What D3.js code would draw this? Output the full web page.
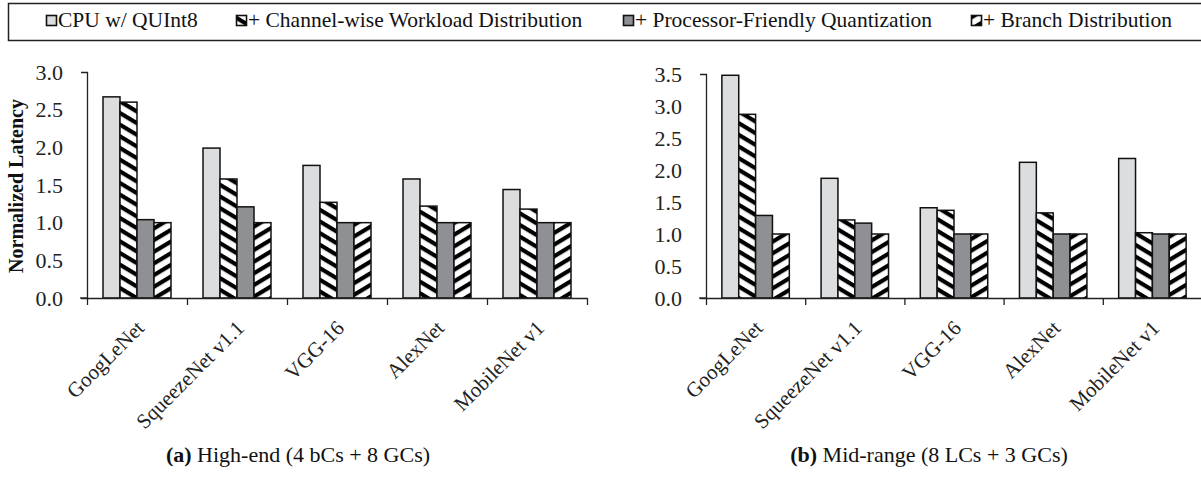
<!DOCTYPE html>
<html>
<head>
<meta charset="utf-8">
<script src="https://cdn.jsdelivr.net/npm/d3@7"></script>
<style>
  html, body { margin: 0; padding: 0; background: #fff; }
  svg { display: block; }
  svg text { font-family: "Liberation Serif", "Times New Roman", serif; }
</style>
</head>
<body>
<svg id="chart" width="1201" height="482"></svg>
<script>
const SERIF = "Liberation Serif";

// Networks on the x axis
const models = ["GoogLeNet", "SqueezeNet v1.1", "VGG-16", "AlexNet", "MobileNet v1"];

// Optimisation steps (legend entries)
const seriesNames = [
  "CPU w/ QUInt8",
  "+ Channel-wise Workload Distribution",
  "+ Processor-Friendly Quantization",
  "+ Branch Distribution"
];

// (a) High-end (4 bCs + 8 GCs): normalized latency per model, one array per step
const highCpu      = [2.67, 1.99, 1.76, 1.58, 1.44];
const highChannel  = [2.60, 1.58, 1.27, 1.22, 1.18];
const highQuant    = [1.04, 1.21, 1.00, 1.00, 1.00];
const highBranch   = [1.00, 1.00, 1.00, 1.00, 1.00];

// (b) Mid-range (8 LCs + 3 GCs)
const midCpu       = [3.48, 1.87, 1.41, 2.12, 2.18];
const midChannel   = [2.87, 1.22, 1.37, 1.33, 1.02];
const midQuant     = [1.29, 1.17, 1.00, 1.00, 1.00];
const midBranch    = [1.00, 1.00, 1.00, 1.00, 1.00];

const highTicks = [0, 0.5, 1.0, 1.5, 2.0, 2.5, 3.0];
const midTicks  = [0, 0.5, 1.0, 1.5, 2.0, 2.5, 3.0, 3.5];

const svg = d3.select("#chart");
const defs = svg.append("defs");

// Striped fills: "\" for channel-wise, "/" for branch distribution
function stripePattern(id, angle) {
  const p = defs.append("pattern")
    .attr("id", id)
    .attr("patternUnits", "userSpaceOnUse")
    .attr("width", 10).attr("height", 10)
    .attr("patternTransform", `rotate(${angle})`);
  p.append("rect").attr("width", 10).attr("height", 10).attr("fill", "#fff");
  p.append("rect").attr("x", 0).attr("y", 3).attr("width", 10).attr("height", 4.2).attr("fill", "#000");
}
stripePattern("stripeBack", 31);
stripePattern("stripeFwd", -31);

const fills = ["#dcdddf", "url(#stripeBack)", "#8f9094", "url(#stripeFwd)"];

// Legend frame and entries
svg.append("rect")
  .attr("x", 8.5).attr("y", 3.5).attr("width", 1200).attr("height", 37)
  .attr("fill", "none").attr("stroke", "#222").attr("stroke-width", 1.5);

const legendX = [46, 236, 623, 971];
const legend = svg.append("g").selectAll("g")
  .data(seriesNames).join("g")
  .attr("transform", (d, i) => `translate(${legendX[i]},0)`);
legend.append("rect")
  .attr("x", 0.5).attr("y", 15.5).attr("width", 10).attr("height", 10)
  .attr("fill", (d, i) => fills[i]).attr("stroke", "#111").attr("stroke-width", 1.6);
legend.append("text")
  .attr("x", 12).attr("y", 27)
  .attr("font-family", SERIF)
  .attr("font-size", 21.5).attr("fill", "#111")
  .text(d => d);

function drawPanel(opts) {
  const { x0, x1, yTop, yBottom, yMax, ticks, series, caption, captionX, yLabel } = opts;
  const g = svg.append("g");

  const x = d3.scaleBand()
    .domain(models)
    .range([x0, x1])
    .paddingInner(0.32)
    .paddingOuter(0.16);
  const xs = d3.scaleBand()
    .domain(d3.range(series.length))
    .range([0, x.bandwidth()]);
  const y = d3.scaleLinear().domain([0, yMax]).range([yBottom, yTop]);

  // bars
  series.forEach((vals, si) => {
    g.append("g").selectAll("rect")
      .data(models.map((m, i) => ({ m, v: vals[i] })))
      .join("rect")
      .attr("x", d => x(d.m) + xs(si))
      .attr("y", d => y(d.v))
      .attr("width", xs.bandwidth())
      .attr("height", d => y(0) - y(d.v))
      .attr("fill", fills[si])
      .attr("stroke", "#111")
      .attr("stroke-width", 1.5);
  });

  // y axis
  const yAxis = g.append("g")
    .attr("transform", `translate(${x0},0)`)
    .call(d3.axisLeft(y).tickValues(ticks).tickFormat(d3.format(".1f")).tickSize(0).tickSizeOuter(6).tickPadding(24));
  yAxis.attr("font-family", SERIF);
  yAxis.select(".domain").attr("stroke", "#222").attr("stroke-width", 1.3);
  yAxis.selectAll("text").attr("font-size", 22).attr("fill", "#222")
    .attr("font-family", SERIF);

  // x axis with ticks between categories
  const xb = d3.scaleLinear().domain([0, models.length]).range([x0, x1]);
  const xAxis = g.append("g")
    .attr("transform", `translate(0,${yBottom})`)
    .call(d3.axisBottom(xb).ticks(models.length).tickFormat("").tickSize(7).tickSizeOuter(0));
  xAxis.select(".domain").attr("stroke", "#222").attr("stroke-width", 1.3);
  xAxis.selectAll(".tick line").attr("stroke", "#222").attr("stroke-width", 1.3);
  g.append("line")
    .attr("x1", x0 - 7).attr("x2", x0).attr("y1", yBottom).attr("y2", yBottom)
    .attr("stroke", "#222").attr("stroke-width", 1.3);

  // category labels
  g.append("g").selectAll("text")
    .data(models).join("text")
    .attr("transform", d => `translate(${x(d) + x.bandwidth() / 2 - 2},${yBottom + 21}) rotate(-45)`)
    .attr("text-anchor", "end")
    .attr("dy", "0.7em")
    .attr("font-family", SERIF)
    .attr("font-size", 21)
    .attr("fill", "#222")
    .text(d => d);

  if (yLabel) {
    g.append("text")
      .attr("transform", `translate(23,${(yTop + yBottom) / 2 + 1}) rotate(-90)`)
      .attr("text-anchor", "middle")
      .attr("font-family", SERIF)
      .attr("font-size", 20)
      .attr("font-weight", "bold")
      .attr("fill", "#111")
      .text(yLabel);
  }

  const cap = g.append("text")
    .attr("x", captionX).attr("y", 462)
    .attr("text-anchor", "middle")
    .attr("font-family", SERIF)
    .attr("font-size", 22)
    .attr("fill", "#111");
  cap.append("tspan").attr("font-weight", "bold").text(caption[0]);
  cap.append("tspan").text(" " + caption[1]);
}

drawPanel({
  x0: 87, x1: 587, yTop: 72, yBottom: 298, yMax: 3.0, ticks: highTicks,
  series: [highCpu, highChannel, highQuant, highBranch],
  caption: ["(a)", "High-end (4 bCs + 8 GCs)"], captionX: 298,
  yLabel: "Normalized Latency"
});
drawPanel({
  x0: 706, x1: 1202, yTop: 74, yBottom: 298, yMax: 3.5, ticks: midTicks,
  series: [midCpu, midChannel, midQuant, midBranch],
  caption: ["(b)", "Mid-range (8 LCs + 3 GCs)"], captionX: 929
});
</script>
</body>
</html>
